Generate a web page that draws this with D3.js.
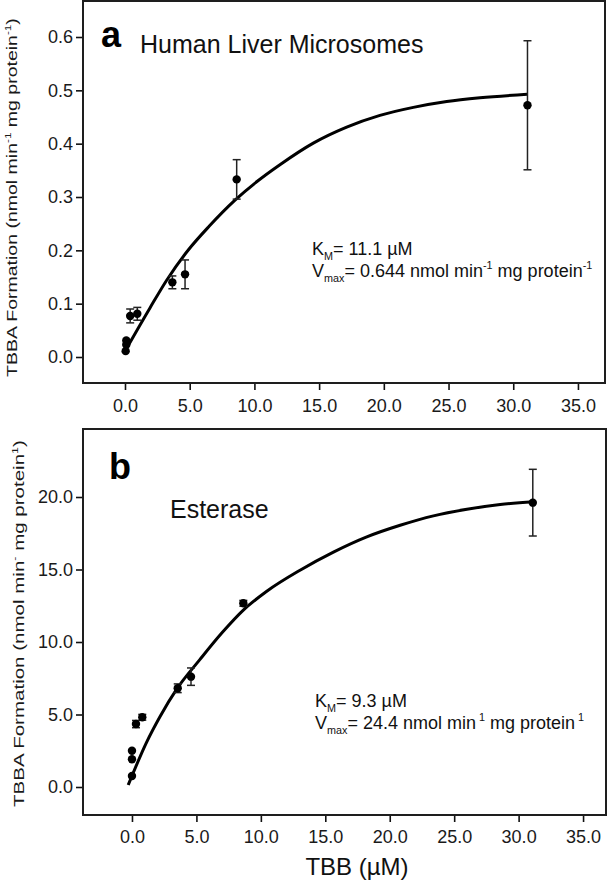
<!DOCTYPE html>
<html>
<head>
<meta charset="utf-8">
<script src="https://cdn.jsdelivr.net/npm/d3@7"></script>
<style>
  html, body { margin: 0; padding: 0; background: #fff; }
  svg { display: block; font-family: "Liberation Sans", Arial, Helvetica, sans-serif; }
</style>
</head>
<body>
<svg id="chart" width="608" height="882"></svg>
<script>
// ---------------- DATA ----------------
// Panel a: Human Liver Microsomes
const tbbA   = [0.05, 0.1, 0.1, 0.4, 0.95, 3.66, 4.64, 8.63, 31.1];
const rateA  = [0.011, 0.023, 0.031, 0.077, 0.081, 0.140, 0.155, 0.333, 0.472];
const sdA    = [0, 0, 0, 0.013, 0.012, 0.012, 0.027, 0.037, 0.121];
const fitXA  = [0.05, 1.93, 3.22, 4.89, 6.5, 8.5, 10.2, 12.0, 14.55, 17.13, 19.7, 22.28, 24.86, 27.43, 31.09];
const fitYA  = [0.013, 0.092, 0.144, 0.2006, 0.245, 0.294, 0.329, 0.361, 0.401, 0.431, 0.453, 0.468, 0.479, 0.486, 0.4925];

// Panel b: Esterase
const tbbB   = [0, 0, 0, 0.31, 0.80, 3.55, 4.58, 8.64, 31.1];
const rateB  = [2.50, 1.91, 0.76, 4.34, 4.81, 6.81, 7.61, 12.67, 19.61];
const sdB    = [0, 0, 0, 0.25, 0.2, 0.3, 0.6, 0.2, 2.3];
const fitXB  = [-0.29, 1.14, 2.17, 3.47, 5.28, 7.0, 8.64, 10.46, 13.04, 15.63, 18.22, 20.81, 23.39, 25.99, 28.57, 31.16];
const fitYB  = [0.14, 3.1, 4.85, 6.75, 8.8, 10.65, 12.2, 13.5, 14.95, 16.2, 17.25, 18.05, 18.7, 19.15, 19.48, 19.68];

const xTicks  = [0, 5, 10, 15, 20, 25, 30, 35];
const yTicksA = [0, 0.1, 0.2, 0.3, 0.4, 0.5, 0.6];
const yTicksB = [0, 5, 10, 15, 20];

// ---------------- DRAWING ----------------
const svg = d3.select("#chart");
const fmt = d3.format(".1f");

function rich(textSel, parts, size) {
  let shift = 0;
  parts.forEach(p => {
    const ts = textSel.append("tspan").text(p.t);
    let target = 0, fs = size;
    if (p.sup) { target = -size * 0.42; fs = size * 0.6; }
    if (p.sub) { target = size * 0.3; fs = size * 0.6; }
    ts.attr("font-size", fs).attr("dy", target - shift);
    shift = target;
  });
}

function panel(cfg) {
  const x = d3.scaleLinear().domain(cfg.xDomain).range([cfg.left, cfg.right]);
  const y = d3.scaleLinear().domain(cfg.yDomain).range([cfg.bottom, cfg.top]);
  const g = svg.append("g");

  // axes
  const xa = g.append("g").attr("transform", `translate(0,${cfg.bottom})`)
    .call(d3.axisBottom(x).tickValues(xTicks).tickFormat(fmt).tickSize(7).tickPadding(cfg.xPad).tickSizeOuter(0));
  const ya = g.append("g").attr("transform", `translate(${cfg.left},0)`)
    .call(d3.axisLeft(y).tickValues(cfg.yTicks).tickFormat(fmt).tickSize(7).tickPadding(3).tickSizeOuter(0));
  [xa, ya].forEach(a => {
    a.select(".domain").remove();
    a.selectAll(".tick line").attr("stroke", "#111").attr("stroke-width", 1.6);
    a.selectAll(".tick text").attr("font-size", 18).attr("fill", "#1a1a1a")
      .attr("font-family", "'Liberation Sans', Arial, sans-serif");
  });

  // frame
  g.append("rect").attr("x", cfg.left).attr("y", cfg.top)
    .attr("width", cfg.right - cfg.left).attr("height", cfg.bottom - cfg.top)
    .attr("fill", "none").attr("stroke", "#1e1e1e").attr("stroke-width", 2);

  // fit curve
  const fit = cfg.fitX.map((v, i) => [v, cfg.fitY[i]]);
  g.append("path").datum(fit)
    .attr("d", d3.line().x(d => x(d[0])).y(d => y(d[1])).curve(d3.curveMonotoneX))
    .attr("fill", "none").attr("stroke", "#000").attr("stroke-width", 3);

  // error bars + points
  const pts = cfg.xs.map((v, i) => ({ x: v, y: cfg.ys[i], e: cfg.es[i] }));
  const eb = g.append("g").attr("stroke", "#222").attr("stroke-width", 1.5);
  pts.filter(d => d.e > 0).forEach(d => {
    const cx = x(d.x), y1 = y(d.y + d.e), y2 = y(d.y - d.e);
    eb.append("line").attr("x1", cx).attr("x2", cx).attr("y1", y1).attr("y2", y2);
    eb.append("line").attr("x1", cx - 4).attr("x2", cx + 4).attr("y1", y1).attr("y2", y1);
    eb.append("line").attr("x1", cx - 4).attr("x2", cx + 4).attr("y1", y2).attr("y2", y2);
  });
  g.append("g").selectAll("circle").data(pts).join("circle")
    .attr("cx", d => x(d.x)).attr("cy", d => y(d.y)).attr("r", 4.2).attr("fill", "#000");

  // panel letter + title
  g.append("text").attr("x", cfg.letterX).attr("y", cfg.letterY)
    .attr("font-size", 36).attr("font-weight", "bold").attr("fill", "#000").text(cfg.letter);
  g.append("text").attr("x", cfg.titleX).attr("y", cfg.titleY)
    .attr("font-size", 25).attr("fill", "#111").text(cfg.title);

  // annotation
  const a1 = g.append("text").attr("x", cfg.annX).attr("y", cfg.annY).attr("fill", "#111");
  rich(a1, cfg.ann1, 18);
  const a2 = g.append("text").attr("x", cfg.annX).attr("y", cfg.annY + 22).attr("fill", "#111");
  rich(a2, cfg.ann2, 18);

  // y title (stretched along its length as in the reference)
  const yt = g.append("text").attr("text-anchor", "start").attr("fill", "#1a1a1a").attr("font-size", 14);
  rich(yt, cfg.yTitle, 14);
  const len = yt.node().getComputedTextLength();
  const s = cfg.yTitleLen / len;
  yt.attr("transform", `translate(${cfg.yTitleX},${cfg.yTitleBottom}) rotate(-90) scale(${s},1)`);
}

panel({
  left: 83, right: 605, top: 1, bottom: 383,
  xDomain: [-3.245, 37.09], yDomain: [-0.04875, 0.6675],
  yTicks: yTicksA, xPad: 9,
  xs: tbbA, ys: rateA, es: sdA, fitX: fitXA, fitY: fitYA,
  letter: "a", letterX: 101, letterY: 47,
  title: "Human Liver Microsomes", titleX: 140, titleY: 53,
  annX: 312, annY: 255,
  ann1: [{t: "K"}, {t: "M", sub: true}, {t: "= 11.1 µM"}],
  ann2: [{t: "V"}, {t: "max", sub: true}, {t: "= 0.644 nmol min"}, {t: "-1", sup: true}, {t: " mg protein"}, {t: "-1", sup: true}],
  yTitle: [{t: "TBBA Formation (nmol min"}, {t: "-1", sup: true}, {t: " mg protein"}, {t: "-1", sup: true}, {t: ")"}],
  yTitleX: 17, yTitleBottom: 377, yTitleLen: 359
});

panel({
  left: 83, right: 606, top: 429, bottom: 815,
  xDomain: [-3.80, 36.78], yDomain: [-1.931, 24.69],
  yTicks: yTicksB, xPad: 8,
  xs: tbbB, ys: rateB, es: sdB, fitX: fitXB, fitY: fitYB,
  letter: "b", letterX: 109, letterY: 479,
  title: "Esterase", titleX: 170, titleY: 518,
  annX: 315, annY: 707,
  ann1: [{t: "K"}, {t: "M", sub: true}, {t: "= 9.3 µM"}],
  ann2: [{t: "V"}, {t: "max", sub: true}, {t: "= 24.4 nmol min"}, {t: " 1", sup: true}, {t: " mg protein"}, {t: " 1", sup: true}],
  yTitle: [{t: "TBBA Formation (nmol min"}, {t: "-", sup: true}, {t: " mg protein"}, {t: "1", sup: true}, {t: ")"}],
  yTitleX: 24, yTitleBottom: 807, yTitleLen: 367
});

// shared x-axis title
svg.append("text").attr("x", 357).attr("y", 875).attr("text-anchor", "middle")
  .attr("font-size", 24).attr("fill", "#111").text("TBB (µM)");
</script>
</body>
</html>
